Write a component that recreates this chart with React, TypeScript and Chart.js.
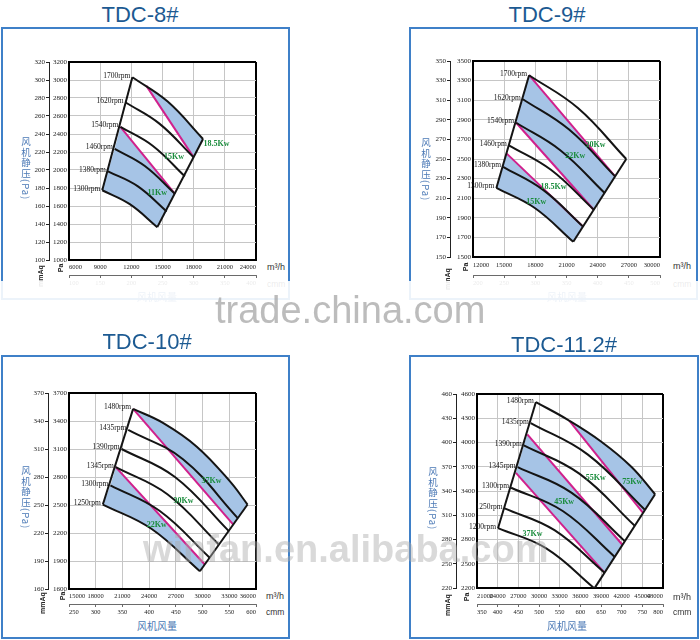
import { useEffect, useRef } from 'react';
import type { CSSProperties } from 'react';
import { Chart, registerables } from 'chart.js';

Chart.register(...registerables);

type Pt = [number, number];

// ---------- TDC-8# ----------
const tdc8Rpm = ['1700rpm', '1620rpm', '1540rpm', '1460rpm', '1380rpm', '1300rpm'];
const tdc8Curves: Pt[][] = [
  [[12100, 3030], [15500, 2760], [18900, 2345]],
  [[11450, 2750], [14700, 2515], [18000, 2140]],
  [[10950, 2480], [14050, 2270], [17150, 1930]],
  [[10400, 2235], [13300, 2045], [16200, 1735]],
  [[9750, 1985], [12600, 1820], [15400, 1540]],
  [[9200, 1775], [11850, 1620], [14500, 1365]],
];
const tdc8Pink: Pt[][] = [
  [[13450, 2935], [18000, 2140]],
  [[10950, 2480], [16200, 1735]],
];
const tdc8Blue: Pt[][] = [
  [[13450, 2935], [15500, 2760], [17200, 2570], [18900, 2345], [18000, 2140], [13450, 2935]],
  [[10950, 2480], [16200, 1735], [15400, 1540], [14500, 1365], [13175, 1505], [11850, 1620],
    [10525, 1710], [9200, 1775], [9750, 1985], [10400, 2235], [10950, 2480]],
];
const tdc8Kw = ['18.5Kw', '15Kw', '11Kw'];
const tdc8KwAt: Pt[] = [[20200, 2290], [16100, 2145], [14500, 1750]];
const tdc8Flow = [6000, 24000, 3000];
const tdc8Cmm = [100, 400, 50];
const tdc8Pa = [1000, 3200, 200];
const tdc8MmAq = [100, 320, 20];

// ---------- TDC-9# ----------
const tdc9Rpm = ['1700rpm', '1620rpm', '1540rpm', '1460rpm', '1380rpm', '1300rpm'];
const tdc9Curves: Pt[][] = [
  [[17400, 3355], [22100, 3020], [26750, 2500]],
  [[16800, 3110], [21250, 2800], [25700, 2320]],
  [[16150, 2870], [20400, 2590], [24700, 2150]],
  [[15450, 2640], [19500, 2390], [23600, 1985]],
  [[14900, 2420], [18750, 2185], [22600, 1810]],
  [[14250, 2205], [17950, 2000], [21650, 1655]],
];
const tdc9Pink: Pt[][] = [
  [[17400, 3355], [25700, 2320]],
  [[16150, 2870], [23600, 1985]],
  [[15250, 2555], [22600, 1810]],
];
const tdc9Blue: Pt[][] = [
  [[17400, 3355], [25700, 2320], [24700, 2150], [23600, 1985], [16150, 2870], [16800, 3110], [17400, 3355]],
  [[15250, 2555], [22600, 1810], [21650, 1655], [19800, 1845], [17950, 2000], [16100, 2120],
    [14250, 2205], [14900, 2420], [15250, 2555]],
];
const tdc9Kw = ['30Kw', '22Kw', '18.5Kw', '15Kw'];
const tdc9KwAt: Pt[] = [[23800, 2645], [21850, 2530], [19750, 2220], [18100, 2065]];
const tdc9Flow = [12000, 30000, 3000];
const tdc9Cmm = [200, 500, 50];
const tdc9Pa = [1500, 3500, 200];
const tdc9MmAq = [150, 350, 20];

// ---------- TDC-10# ----------
const tdc10Rpm = ['1480rpm', '1435rpm', '1390rpm', '1345rpm', '1300rpm', '1250rpm'];
const tdc10Curves: Pt[][] = [
  [[22200, 3530], [25550, 3380], [29350, 3125], [33100, 2750], [35050, 2505]],
  [[21650, 3305], [27800, 2990], [33950, 2360]],
  [[20900, 3100], [26900, 2800], [32950, 2220]],
  [[20250, 2905], [26050, 2615], [31850, 2075]],
  [[19650, 2710], [25200, 2435], [30800, 1935]],
  [[18800, 2505], [24250, 2245], [29700, 1790]],
];
const tdc10Pink: Pt[][] = [
  [[22200, 3530], [33450, 2290]],
  [[20250, 2905], [30250, 1862]],
];
const tdc10Blue: Pt[][] = [
  [[22200, 3530], [25550, 3380], [29350, 3125], [33100, 2750], [35050, 2505], [33950, 2360],
    [33450, 2290], [22200, 3530]],
  [[20250, 2905], [30250, 1862], [29700, 1790], [26975, 2042], [24250, 2245], [21525, 2399],
    [18800, 2505], [19650, 2710], [20250, 2905]],
];
const tdc10Kw = ['37Kw', '30Kw', '22Kw'];
const tdc10KwAt: Pt[] = [[31000, 2755], [27850, 2545], [24850, 2285]];
const tdc10Flow = [15000, 36000, 3000];
const tdc10Cmm = [250, 600, 50];
const tdc10Pa = [1600, 3700, 300];
const tdc10MmAq = [160, 370, 30];

// ---------- TDC-11.2# ----------
const tdc11Rpm = ['1480rpm', '1435rpm', '1390rpm', '1345rpm', '1300rpm', '1250rpm', '1200rpm'];
const tdc11Curves: Pt[][] = [
  [[29550, 4500], [34200, 4280], [39050, 4010], [43400, 3700], [46850, 3360]],
  [[28800, 4240], [37100, 3850], [45400, 3165]],
  [[27800, 3965], [35850, 3615], [43900, 2970]],
  [[26900, 3695], [34700, 3380], [42450, 2780]],
  [[25950, 3440], [33500, 3150], [41000, 2585]],
  [[25000, 3185], [32250, 2915], [39500, 2390]],
  [[24050, 2940], [31050, 2690], [38050, 2195]],
];
const tdc11Pink: Pt[][] = [
  [[34450, 4265], [45100, 3128]],
  [[28300, 4100], [42100, 2735]],
  [[26650, 3625], [39500, 2390]],
];
const tdc11Blue: Pt[][] = [
  [[34450, 4265], [39050, 4010], [43400, 3700], [46850, 3360], [45400, 3165], [45100, 3128], [34450, 4265]],
  [[28300, 4100], [42100, 2735], [41000, 2585], [39500, 2390], [26650, 3625], [26900, 3695],
    [27800, 3965], [28300, 4100]],
];
const tdc11Kw = ['55Kw', '75Kw', '45Kw', '37Kw'];
const tdc11KwAt: Pt[] = [[38250, 3560], [43550, 3510], [33650, 3270], [29050, 2875]];
const tdc11Flow = [21000, 48000, 3000];
const tdc11Cmm = [350, 800, 50];
const tdc11Pa = [2200, 4600, 300];
const tdc11MmAq = [220, 460, 30];

// ---------- styling ----------
const BLUE = '#a6c4e6';
const PINK = '#d1208c';
const INK = '#141414';
const GREEN = '#1a8c3c';
const GRID = '#c6c6c6';
const TITLE = '#1c5a92';
const AXIS_BLUE = '#4a78b5';
const BOX = '#3f80c8';
const SERIF = '"Liberation Serif", "DejaVu Serif", serif';
const SANS = '"Liberation Sans", Arial, sans-serif';
const CJK = '"Noto Sans CJK SC", sans-serif';

interface PanelSpec {
  title: string;
  titleX: number;
  titleTop: number;
  box: number[]; // left, top, width, height
  canvas: number[]; // left, top, width, height
  mmW: number;
  paW: number;
  xH: number;
  cmmH: number;
  xPad: number;
  flow: number[];
  cmm: number[];
  pa: number[];
  mmAq: number[];
  rpm: string[];
  curves: Pt[][];
  pink: Pt[][];
  blue: Pt[][];
  kw: string[];
  kwAt: Pt[];
  yTitle: Pt;
  paLbl: Pt;
  mmLbl: Pt;
  unitX: number;
  unitY: Pt;
  xTitle: Pt;
}

const panels: PanelSpec[] = [
  {
    title: 'TDC-8#', titleX: 140, titleTop: 2, box: [1, 27, 289, 273], canvas: [20, 54, 242, 236],
    mmW: 29, paW: 20, xH: 15, cmmH: 15, xPad: 3,
    flow: tdc8Flow, cmm: tdc8Cmm, pa: tdc8Pa, mmAq: tdc8MmAq,
    rpm: tdc8Rpm, curves: tdc8Curves, pink: tdc8Pink, blue: tdc8Blue, kw: tdc8Kw, kwAt: tdc8KwAt,
    yTitle: [25, 137], paLbl: [60, 268], mmLbl: [40, 276], unitX: 267, unitY: [267, 283], xTitle: [157, 294],
  },
  {
    title: 'TDC-9#', titleX: 547, titleTop: 2, box: [409, 27, 289, 273], canvas: [420, 53, 246, 237],
    mmW: 30, paW: 23, xH: 18, cmmH: 15, xPad: 4,
    flow: tdc9Flow, cmm: tdc9Cmm, pa: tdc9Pa, mmAq: tdc9MmAq,
    rpm: tdc9Rpm, curves: tdc9Curves, pink: tdc9Pink, blue: tdc9Blue, kw: tdc9Kw, kwAt: tdc9KwAt,
    yTitle: [425, 138], paLbl: [465, 267], mmLbl: [447, 279], unitX: 673, unitY: [266, 283], xTitle: [567, 294],
  },
  {
    title: 'TDC-10#', titleX: 147, titleTop: 329, box: [1, 355, 289, 284], canvas: [20, 385, 242, 233],
    mmW: 28, paW: 21, xH: 15, cmmH: 14, xPad: 3,
    flow: tdc10Flow, cmm: tdc10Cmm, pa: tdc10Pa, mmAq: tdc10MmAq,
    rpm: tdc10Rpm, curves: tdc10Curves, pink: tdc10Pink, blue: tdc10Blue, kw: tdc10Kw, kwAt: tdc10KwAt,
    yTitle: [25, 466], paLbl: [62, 596], mmLbl: [42, 603], unitX: 266, unitY: [596, 611], xTitle: [157, 623],
  },
  {
    title: 'TDC-11.2#', titleX: 564, titleTop: 332, box: [409, 355, 290, 284], canvas: [424, 386, 245, 232],
    mmW: 32, paW: 21, xH: 16, cmmH: 14, xPad: 4,
    flow: tdc11Flow, cmm: tdc11Cmm, pa: tdc11Pa, mmAq: tdc11MmAq,
    rpm: tdc11Rpm, curves: tdc11Curves, pink: tdc11Pink, blue: tdc11Blue, kw: tdc11Kw, kwAt: tdc11KwAt,
    yTitle: [432, 467], paLbl: [466, 597], mmLbl: [447, 605], unitX: 673, unitY: [597, 611], xTitle: [567, 623],
  },
];

const toXY = (pts: Pt[]) => pts.map(([x, y]) => ({ x, y }));
const plain = (v: any) => String(v);
const isEdge = (c: any) => c.index === 0 || c.index === c.scale.ticks.length - 1;

function buildConfig(s: PanelSpec): any {
  const datasets: any[] = [];
  const base = { xAxisID: 'x', yAxisID: 'y', pointRadius: 0, pointHoverRadius: 0 };
  s.blue.forEach((poly) =>
    datasets.push({ ...base, data: toXY(poly), fill: 'shape', backgroundColor: BLUE, borderWidth: 0, tension: 0, order: 3 })
  );
  s.pink.forEach((seg) =>
    datasets.push({ ...base, data: toXY(seg), fill: false, borderColor: PINK, borderWidth: 2, tension: 0, order: 2 })
  );
  s.curves.forEach((c) =>
    datasets.push({ ...base, data: toXY(c), fill: false, borderColor: INK, borderWidth: 2, tension: 0.4, order: 1 })
  );
  const first = s.curves[0];
  const last = s.curves[s.curves.length - 1];
  datasets.push({ ...base, data: toXY([first[0], last[0]]), fill: false, borderColor: INK, borderWidth: 2, tension: 0, order: 1 });
  datasets.push({
    ...base,
    data: toXY([first[first.length - 1], last[last.length - 1]]),
    fill: false, borderColor: INK, borderWidth: 2, tension: 0, order: 1,
  });

  // rpm and power labels, placed through the chart scales
  const labels = {
    id: 'curveLabels',
    afterDatasetsDraw(chart: any) {
      const { ctx } = chart;
      const xs = chart.scales.x;
      const ys = chart.scales.y;
      ctx.save();
      ctx.font = `7.5px ${SERIF}`;
      ctx.fillStyle = INK;
      ctx.textAlign = 'right';
      ctx.textBaseline = 'middle';
      s.rpm.forEach((t, i) => {
        const [vx, vy] = s.curves[i][0];
        ctx.fillText(t, xs.getPixelForValue(vx) - 2, ys.getPixelForValue(vy) - 1.5);
      });
      ctx.font = `bold 8px ${SERIF}`;
      ctx.fillStyle = GREEN;
      ctx.textAlign = 'center';
      s.kw.forEach((t, i) => {
        const [vx, vy] = s.kwAt[i];
        ctx.fillText(t, xs.getPixelForValue(vx), ys.getPixelForValue(vy));
      });
      ctx.restore();
    },
  };

  return {
    type: 'line',
    data: { datasets },
    plugins: [labels],
    options: {
      responsive: false,
      animation: false,
      events: [],
      layout: { padding: { top: 8, right: 6, left: 0, bottom: 0 } },
      plugins: { legend: { display: false }, tooltip: { enabled: false } },
      scales: {
        x: {
          type: 'linear', position: 'bottom', weight: 0,
          min: s.flow[0], max: s.flow[1],
          ticks: {
            stepSize: s.flow[2], align: 'inner', padding: s.xPad, autoSkip: false, maxRotation: 0,
            font: { family: SERIF, size: 6.5 }, color: '#222', callback: plain,
          },
          grid: { color: (c: any) => (isEdge(c) ? '#000' : GRID), lineWidth: (c: any) => (isEdge(c) ? 2 : 1), drawTicks: false },
          border: { color: '#000', width: 2 },
          afterFit: (sc: any) => { sc.height = s.xH; },
        },
        x2: {
          type: 'linear', position: 'bottom', weight: 1,
          min: s.cmm[0], max: s.cmm[1],
          ticks: {
            stepSize: s.cmm[2], align: 'inner', padding: 1, autoSkip: false, maxRotation: 0,
            font: { family: SERIF, size: 6.5 }, color: '#222', callback: plain,
          },
          grid: { drawOnChartArea: false, drawTicks: true, tickLength: 3, color: '#444', lineWidth: 0.8 },
          border: { color: '#444', width: 0.8 },
          afterFit: (sc: any) => { sc.height = s.cmmH; },
        },
        y: {
          type: 'linear', position: 'left', weight: 0,
          min: s.pa[0], max: s.pa[1],
          ticks: { stepSize: s.pa[2], padding: 2, autoSkip: false, font: { family: SERIF, size: 7 }, color: '#222', callback: plain },
          grid: { color: (c: any) => (isEdge(c) ? '#000' : GRID), lineWidth: (c: any) => (isEdge(c) ? 2 : 1), drawTicks: false },
          border: { color: '#000', width: 2 },
          afterFit: (sc: any) => { sc.width = s.paW; },
        },
        y2: {
          type: 'linear', position: 'left', weight: 1,
          min: s.mmAq[0], max: s.mmAq[1],
          ticks: { stepSize: s.mmAq[2], padding: 1, autoSkip: false, font: { family: SERIF, size: 7 }, color: '#222', callback: plain },
          grid: { drawOnChartArea: false, drawTicks: true, tickLength: 3, color: '#222', lineWidth: 1 },
          border: { color: '#222', width: 1 },
          afterFit: (sc: any) => { sc.width = s.mmW; },
        },
      },
    },
  };
}

const abs = (st: CSSProperties): CSSProperties => ({ position: 'absolute', whiteSpace: 'nowrap', lineHeight: 1, ...st });

function Panel({ spec }: { spec: PanelSpec }) {
  const ref = useRef<HTMLCanvasElement>(null);

  useEffect(() => {
    if (!ref.current) return;
    const chart = new Chart(ref.current, buildConfig(spec));
    return () => {
      chart.destroy();
    };
  }, [spec]);

  const [bl, bt, bw, bh] = spec.box;
  const [cl, ct, cw, ch] = spec.canvas;
  return (
    <>
      <div style={abs({ left: spec.titleX, top: spec.titleTop, transform: 'translateX(-50%)', font: `22px ${SANS}`, color: TITLE })}>
        {spec.title}
      </div>
      <div style={{ position: 'absolute', left: bl, top: bt, width: bw, height: bh, border: `2px solid ${BOX}`, boxSizing: 'border-box' }} />
      <canvas ref={ref} width={cw} height={ch} style={{ position: 'absolute', left: cl, top: ct, width: cw, height: ch }} />
      <div
        style={abs({
          left: spec.yTitle[0] - 6, top: spec.yTitle[1], writingMode: 'vertical-rl',
          font: `9.5px ${CJK}`, lineHeight: '12px', letterSpacing: '1px', color: AXIS_BLUE,
        })}
      >
        风机静压(Pa)
      </div>
      <div style={abs({ left: spec.paLbl[0], top: spec.paLbl[1], transform: 'translate(-50%,-50%) rotate(-90deg)', font: `bold 7px ${SANS}`, color: '#222' })}>
        Pa
      </div>
      <div style={abs({ left: spec.mmLbl[0], top: spec.mmLbl[1], transform: 'translate(-50%,-50%) rotate(-90deg)', font: `bold 7px ${SANS}`, color: '#222' })}>
        mmAq
      </div>
      <div style={abs({ left: spec.unitX, top: spec.unitY[0] - 5, font: `9px ${SANS}`, color: '#333' })}>m³/h</div>
      <div style={abs({ left: spec.unitX, top: spec.unitY[1] - 4.5, font: `8.5px ${SANS}`, color: '#333' })}>cmm</div>
      <div style={abs({ left: spec.xTitle[0], top: spec.xTitle[1] - 5, transform: 'translateX(-50%)', font: `10px ${CJK}`, color: AXIS_BLUE })}>
        风机风量
      </div>
    </>
  );
}

export default function App() {
  return (
    <div style={{ position: 'absolute', left: 0, top: 0, width: 700, height: 640, background: '#fff', overflow: 'hidden' }}>
      {panels.map((p) => (
        <Panel key={p.title} spec={p} />
      ))}
      <div style={{ position: 'absolute', left: 0, top: 281, width: 700, height: 22, background: 'rgba(255,255,255,0.9)' }} />
      <div style={abs({ left: 215, top: 289, font: `38px ${SANS}`, color: 'rgba(165,165,165,0.75)' })}>trade.china.com</div>
      <div style={abs({ left: 143, top: 528, font: `bold 38px ${SANS}`, color: 'rgba(170,170,170,0.45)' })}>winfan.en.alibaba.com</div>
    </div>
  );
}
